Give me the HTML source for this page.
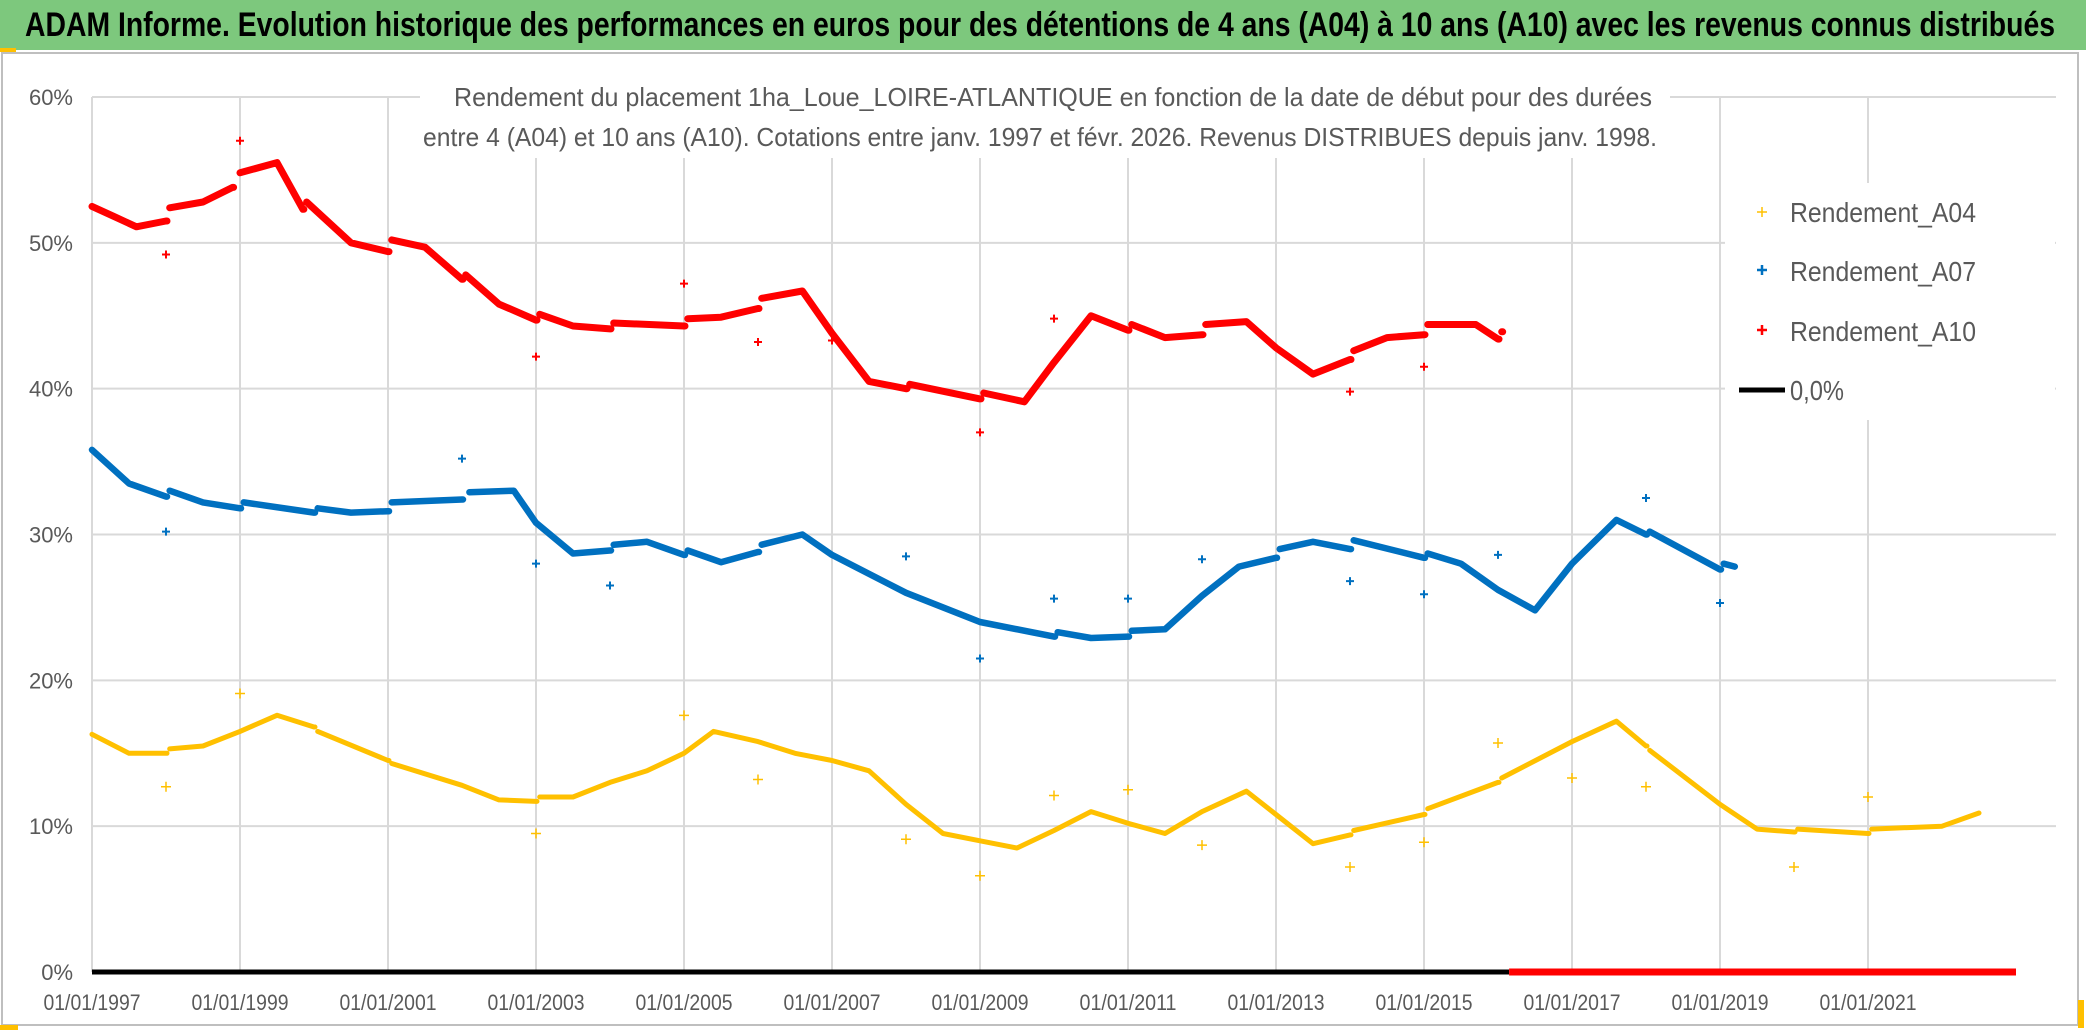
<!DOCTYPE html>
<html><head><meta charset="utf-8">
<style>
html,body{margin:0;padding:0;background:#fff;}
svg{display:block;}
text{font-family:"Liberation Sans Narrow","Liberation Sans",sans-serif;}
</style></head>
<body>
<svg id="chart" width="2086" height="1031" viewBox="0 0 2086 1031" xmlns="http://www.w3.org/2000/svg">
  <rect x="0" y="0" width="2086" height="1031" fill="#fff"/>
  <rect x="0" y="0" width="2086" height="50" fill="#7dc87d"/>
  <text x="25" y="36" font-size="34" font-weight="bold" fill="#000" textLength="2030" lengthAdjust="spacingAndGlyphs">ADAM Informe. Evolution historique des performances en euros pour des détentions de 4 ans (A04) à 10 ans (A10) avec les revenus connus distribués</text>
  <rect x="2" y="53" width="2076" height="972" fill="none" stroke="#bfbfbf" stroke-width="2"/>
  <rect x="0" y="48" width="16" height="4" fill="#ffc000"/>
  <rect x="0" y="1025" width="18" height="5" fill="#ffc000"/>
  <rect x="2078" y="1000" width="6" height="28" fill="#ffc000"/>
  <g id="grid"></g>
  <rect x="420" y="60" width="1250" height="98" fill="#fff"/>
  <text x="1053" y="106" font-size="26" fill="#595959" text-anchor="middle" textLength="1198" lengthAdjust="spacingAndGlyphs">Rendement du placement 1ha_Loue_LOIRE-ATLANTIQUE en fonction de la date de début pour des durées</text>
  <text x="1040" y="146" font-size="26" fill="#595959" text-anchor="middle" textLength="1234" lengthAdjust="spacingAndGlyphs">entre 4 (A04) et 10 ans (A10). Cotations entre janv. 1997 et févr. 2026. Revenus DISTRIBUES depuis janv. 1998.</text>
  <g id="series"></g>
  <rect x="1725" y="183" width="330" height="237" fill="#fff"/>
  <g>
    <g>
      <path d="M1757 212h10M1762 207v10" stroke="#ffc000" stroke-width="1.5"/>
      <text x="1790" y="222" font-size="28" fill="#595959" textLength="186" lengthAdjust="spacingAndGlyphs">Rendement_A04</text>
    </g>
    <g>
      <path d="M1757 270h10M1762 265v10" stroke="#0070c0" stroke-width="2.5"/>
      <text x="1790" y="281" font-size="28" fill="#595959" textLength="186" lengthAdjust="spacingAndGlyphs">Rendement_A07</text>
    </g>
    <g>
      <path d="M1757 330h10M1762 325v10" stroke="#ff0000" stroke-width="2.5"/>
      <text x="1790" y="341" font-size="28" fill="#595959" textLength="186" lengthAdjust="spacingAndGlyphs">Rendement_A10</text>
    </g>
    <g>
      <path d="M1739 390h46" stroke="#000" stroke-width="5"/>
      <text x="1790" y="400" font-size="28" fill="#595959" textLength="54" lengthAdjust="spacingAndGlyphs">0,0%</text>
    </g>
  </g>
</svg>
<script>
const xTicks = [1997,1999,2001,2003,2005,2007,2009,2011,2013,2015,2017,2019,2021];
const yTicks = [0,10,20,30,40,50,60];
const a10Dates = [1997.0,1997.3,1997.6,1998.0,1998.05,1998.5,1998.9,1999.0,1999.5,1999.85,1999.9,2000.5,2001.0,2001.05,2001.5,2002.0,2002.05,2002.5,2003.0,2003.05,2003.5,2004.0,2004.05,2005.0,2005.05,2005.5,2006.0,2006.05,2006.6,2007.0,2007.5,2008.0,2008.05,2009.0,2009.05,2009.6,2010.0,2010.5,2011.0,2011.05,2011.5,2012.0,2012.05,2012.6,2013.0,2013.5,2014.0,2014.05,2014.5,2015.0,2015.05,2015.7,2016.0,2016.05,2016.15];
const a10Values = [52.5,51.8,51.1,51.5,52.4,52.8,53.8,54.8,55.5,52.3,52.8,50.0,49.4,50.2,49.7,47.5,47.8,45.8,44.7,45.1,44.3,44.1,44.5,44.3,44.8,44.9,45.5,46.2,46.7,43.8,40.5,40.0,40.3,39.3,39.7,39.1,41.8,45.0,44.0,44.4,43.5,43.7,44.4,44.6,42.8,41.0,42.0,42.6,43.5,43.7,44.4,44.4,43.4,43.9,43.8];
const a10OutDates = [1998,1999,2003,2005,2006,2007,2009,2010,2014,2015];
const a10OutValues = [49.2,57.0,42.2,47.2,43.2,43.3,37.0,44.8,39.8,41.5];
const a07Dates = [1997.0,1997.5,1998.0,1998.05,1998.5,1999.0,1999.05,2000.0,2000.05,2000.5,2001.0,2001.05,2002.0,2002.1,2002.7,2003.0,2003.5,2004.0,2004.05,2004.5,2005.0,2005.05,2005.5,2006.0,2006.05,2006.6,2007.0,2008.0,2009.0,2010.0,2010.05,2010.5,2011.0,2011.05,2011.5,2012.0,2012.5,2013.0,2013.05,2013.5,2014.0,2014.05,2015.0,2015.05,2015.5,2016.0,2016.5,2017.0,2017.6,2018.0,2018.05,2019.0,2019.05,2019.2];
const a07Values = [35.8,33.5,32.6,33.0,32.2,31.8,32.2,31.5,31.8,31.5,31.6,32.2,32.4,32.9,33.0,30.8,28.7,28.9,29.3,29.5,28.6,28.9,28.1,28.8,29.3,30.0,28.6,26.0,24.0,23.0,23.3,22.9,23.0,23.4,23.5,25.8,27.8,28.4,29.0,29.5,29.0,29.6,28.4,28.7,28.0,26.2,24.8,28.0,31.0,30.0,30.2,27.6,28.0,27.8];
const a07OutDates = [1998,2002,2003,2004,2008,2009,2010,2011,2012,2014,2015,2016,2018,2019];
const a07OutValues = [30.2,35.2,28.0,26.5,28.5,21.5,25.6,25.6,28.3,26.8,25.9,28.6,32.5,25.3];
const a04Dates = [1997.0,1997.5,1998.0,1998.05,1998.5,1999.0,1999.5,2000.0,2000.05,2001.0,2001.05,2002.0,2002.5,2003.0,2003.05,2003.5,2004.0,2004.5,2005.0,2005.4,2006.0,2006.5,2007.0,2007.5,2008.0,2008.5,2009.0,2009.5,2010.0,2010.5,2011.0,2011.5,2012.0,2012.6,2013.0,2013.5,2014.0,2014.05,2015.0,2015.05,2016.0,2016.05,2017.0,2017.6,2018.0,2018.05,2019.0,2019.5,2020.0,2020.05,2021.0,2021.05,2022.0,2022.5];
const a04Values = [16.3,15.0,15.0,15.3,15.5,16.5,17.6,16.8,16.5,14.5,14.3,12.8,11.8,11.7,12.0,12.0,13.0,13.8,15.0,16.5,15.8,15.0,14.5,13.8,11.5,9.5,9.0,8.5,9.7,11.0,10.2,9.5,11.0,12.4,10.8,8.8,9.4,9.7,10.8,11.2,13.0,13.3,15.8,17.2,15.5,15.2,11.5,9.8,9.6,9.8,9.5,9.8,10.0,10.9];
const a04OutDates = [1998,1999,2003,2005,2006,2008,2009,2010,2011,2012,2014,2015,2016,2017,2018,2020,2021];
const a04OutValues = [12.7,19.1,9.5,17.6,13.2,9.1,6.6,12.1,12.5,8.7,7.2,8.9,15.7,13.3,12.7,7.2,12.0];
const zeroBlackRange = [1997, 2016.15];
const zeroRedRange = [2016.15, 2023.0];

const X0 = 92, X1 = 2016, D0 = 1997, D1 = 2023;
const Y0 = 972, Y60 = 97;
function sx(d){ return X0 + (d - D0) / (D1 - D0) * (X1 - X0); }
function sy(v){ return Y0 - v / 60 * (Y0 - Y60); }
const NS = 'http://www.w3.org/2000/svg';
function mk(tag, attrs, parent){
  const el = document.createElementNS(NS, tag);
  for (const k in attrs) el.setAttribute(k, attrs[k]);
  parent.appendChild(el);
  return el;
}
const grid = document.getElementById('grid');
const series = document.getElementById('series');
const svg = document.getElementById('chart');

yTicks.forEach(v => {
  if (v > 0) {
    const l = mk('line', {x1: X0, x2: X1 + 40, y1: sy(v), y2: sy(v), stroke: '#d9d9d9', 'stroke-width': 2}, grid);
    
    
  }
  const t = mk('text', {x: 73, y: sy(v) + 8, 'font-size': 22, fill: '#595959', 'text-anchor': 'end'}, svg);
  t.textContent = v + '%';
  
  
});
xTicks.forEach(d => {
  const l = mk('line', {x1: sx(d), x2: sx(d), y1: Y60, y2: Y0, stroke: '#d9d9d9', 'stroke-width': 2}, grid);
  
  
  const t = mk('text', {x: sx(d), y: 1010, 'font-size': 22, fill: '#595959', 'text-anchor': 'middle', textLength: 97, lengthAdjust: 'spacingAndGlyphs'}, svg);
  t.textContent = '01/01/' + d;
  
  
});

function drawSeries(dates, vals, color, width, name){
  const g = mk('g', {}, series);
  
  
  let d = '';
  for (let i = 0; i < dates.length; i++) {
    const cmd = (i === 0 || dates[i] - dates[i-1] < 0.11) ? 'M' : 'L';
    if (cmd === 'M' && i > 0) {
      d += 'L' + (sx(dates[i-1]) + 1).toFixed(1) + ' ' + sy(vals[i-1]).toFixed(1);
    }
    d += cmd + sx(dates[i]).toFixed(1) + ' ' + sy(vals[i]).toFixed(1);
  }
  const p = mk('path', {d: d, fill: 'none', stroke: color, 'stroke-width': width, 'stroke-linejoin': 'round', 'stroke-linecap': 'round'}, g);
  
  
}
function drawOutliers(dates, vals, color, sw, size, name){
  dates.forEach((dt, i) => {
    const x = sx(dt), y = sy(vals[i]);
    const p = mk('path', {d: `M${x-size} ${y}h${2*size}M${x} ${y-size}v${2*size}`, stroke: color, 'stroke-width': sw}, series);
    
    
  });
}

const zb = mk('line', {x1: sx(zeroBlackRange[0]), x2: sx(zeroBlackRange[1]), y1: sy(0), y2: sy(0), stroke: '#000', 'stroke-width': 5}, series);



drawSeries(a04Dates, a04Values, '#ffc000', 5, 'series-a04');
drawOutliers(a04OutDates, a04OutValues, '#ffc000', 1.5, 5, 'a04-outlier');
drawSeries(a07Dates, a07Values, '#0070c0', 6.5, 'series-a07');
drawOutliers(a07OutDates, a07OutValues, '#0070c0', 2, 4, 'a07-outlier');
drawSeries(a10Dates, a10Values, '#ff0000', 7, 'series-a10');
drawOutliers(a10OutDates, a10OutValues, '#ff0000', 2, 4, 'a10-outlier');

const zr = mk('line', {x1: sx(zeroRedRange[0]), x2: sx(zeroRedRange[1]), y1: sy(0), y2: sy(0), stroke: '#ff0000', 'stroke-width': 7}, series);


</script>
</body></html>
